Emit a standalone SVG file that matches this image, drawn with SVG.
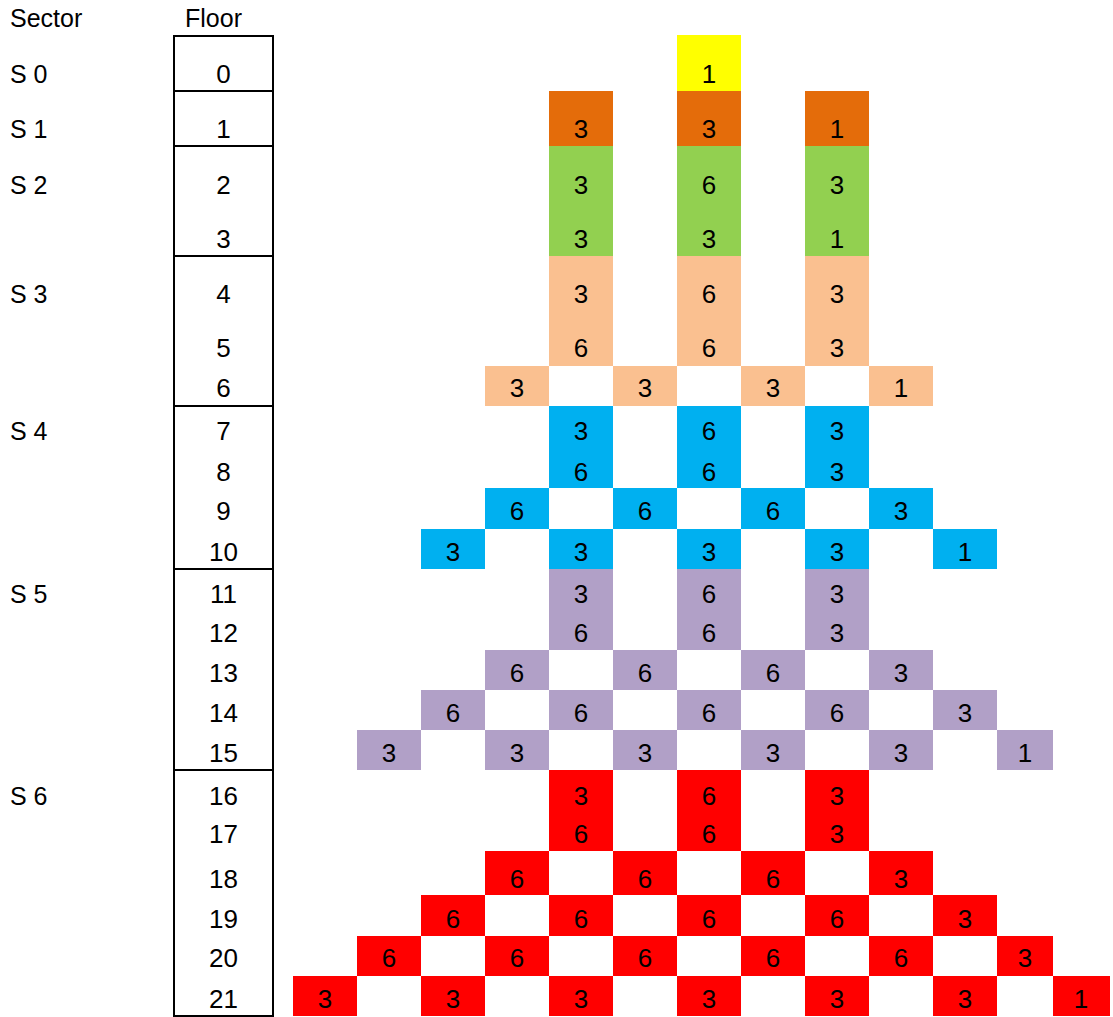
<svg xmlns="http://www.w3.org/2000/svg" width="1113" height="1017" viewBox="0 0 1113 1017">
<style>
text{font-family:"Liberation Sans",Arial,sans-serif;font-size:25px;fill:#000}
.c{text-anchor:middle;font-size:26px}
rect{shape-rendering:crispEdges;stroke:none}
.y{fill:#FFFF00}.o{fill:#E46C0A}.g{fill:#92D050}.p{fill:#FAC090}.b{fill:#00B0F0}.u{fill:#B1A0C7}.r{fill:#FF0000}
.ln{stroke:#000;stroke-width:2;fill:none;shape-rendering:crispEdges}
</style>
<rect width="1113" height="1017" fill="#fff"/>
<g id="headers">
<text x="10" y="27">Sector</text>
<text x="185" y="27">Floor</text>
</g>
<g id="sectors">
<text x="10" y="83">S 0</text>
<text x="10" y="138">S 1</text>
<text x="10" y="194">S 2</text>
<text x="10" y="303">S 3</text>
<text x="10" y="440">S 4</text>
<text x="10" y="603">S 5</text>
<text x="10" y="805">S 6</text>
</g>
<g id="floor-table">
<rect class="ln" x="174" y="36" width="99" height="980"/>
<path class="ln" d="M174 91H273M174 146H273M174 256H273M174 406H273M174 569H273M174 770H273"/>
<text class="c" x="223.5" y="83">0</text>
<text class="c" x="223.5" y="138">1</text>
<text class="c" x="223.5" y="194">2</text>
<text class="c" x="223.5" y="248">3</text>
<text class="c" x="223.5" y="303">4</text>
<text class="c" x="223.5" y="357">5</text>
<text class="c" x="223.5" y="397">6</text>
<text class="c" x="223.5" y="440">7</text>
<text class="c" x="223.5" y="481">8</text>
<text class="c" x="223.5" y="520">9</text>
<text class="c" x="223.5" y="561">10</text>
<text class="c" x="223.5" y="603">11</text>
<text class="c" x="223.5" y="642">12</text>
<text class="c" x="223.5" y="682">13</text>
<text class="c" x="223.5" y="722">14</text>
<text class="c" x="223.5" y="762">15</text>
<text class="c" x="223.5" y="805">16</text>
<text class="c" x="223.5" y="843">17</text>
<text class="c" x="223.5" y="888">18</text>
<text class="c" x="223.5" y="928">19</text>
<text class="c" x="223.5" y="967">20</text>
<text class="c" x="223.5" y="1008">21</text>
</g>
<g id="cells">
<g id="r0c6"><rect class="y" x="677" y="35" width="64" height="56"/><text class="c" x="709" y="83">1</text></g>
<g id="r1c4"><rect class="o" x="549" y="91" width="64" height="55"/><text class="c" x="581" y="138">3</text></g>
<g id="r1c6"><rect class="o" x="677" y="91" width="64" height="55"/><text class="c" x="709" y="138">3</text></g>
<g id="r1c8"><rect class="o" x="805" y="91" width="64" height="55"/><text class="c" x="837" y="138">1</text></g>
<g id="r2c4"><rect class="g" x="549" y="146" width="64" height="55"/><text class="c" x="581" y="194">3</text></g>
<g id="r2c6"><rect class="g" x="677" y="146" width="64" height="55"/><text class="c" x="709" y="194">6</text></g>
<g id="r2c8"><rect class="g" x="805" y="146" width="64" height="55"/><text class="c" x="837" y="194">3</text></g>
<g id="r3c4"><rect class="g" x="549" y="201" width="64" height="55"/><text class="c" x="581" y="248">3</text></g>
<g id="r3c6"><rect class="g" x="677" y="201" width="64" height="55"/><text class="c" x="709" y="248">3</text></g>
<g id="r3c8"><rect class="g" x="805" y="201" width="64" height="55"/><text class="c" x="837" y="248">1</text></g>
<g id="r4c4"><rect class="p" x="549" y="256" width="64" height="55"/><text class="c" x="581" y="303">3</text></g>
<g id="r4c6"><rect class="p" x="677" y="256" width="64" height="55"/><text class="c" x="709" y="303">6</text></g>
<g id="r4c8"><rect class="p" x="805" y="256" width="64" height="55"/><text class="c" x="837" y="303">3</text></g>
<g id="r5c4"><rect class="p" x="549" y="311" width="64" height="55"/><text class="c" x="581" y="357">6</text></g>
<g id="r5c6"><rect class="p" x="677" y="311" width="64" height="55"/><text class="c" x="709" y="357">6</text></g>
<g id="r5c8"><rect class="p" x="805" y="311" width="64" height="55"/><text class="c" x="837" y="357">3</text></g>
<g id="r6c3"><rect class="p" x="485" y="366" width="64" height="40"/><text class="c" x="517" y="397">3</text></g>
<g id="r6c5"><rect class="p" x="613" y="366" width="64" height="40"/><text class="c" x="645" y="397">3</text></g>
<g id="r6c7"><rect class="p" x="741" y="366" width="64" height="40"/><text class="c" x="773" y="397">3</text></g>
<g id="r6c9"><rect class="p" x="869" y="366" width="64" height="40"/><text class="c" x="901" y="397">1</text></g>
<g id="r7c4"><rect class="b" x="549" y="406" width="64" height="41"/><text class="c" x="581" y="440">3</text></g>
<g id="r7c6"><rect class="b" x="677" y="406" width="64" height="41"/><text class="c" x="709" y="440">6</text></g>
<g id="r7c8"><rect class="b" x="805" y="406" width="64" height="41"/><text class="c" x="837" y="440">3</text></g>
<g id="r8c4"><rect class="b" x="549" y="447" width="64" height="41"/><text class="c" x="581" y="481">6</text></g>
<g id="r8c6"><rect class="b" x="677" y="447" width="64" height="41"/><text class="c" x="709" y="481">6</text></g>
<g id="r8c8"><rect class="b" x="805" y="447" width="64" height="41"/><text class="c" x="837" y="481">3</text></g>
<g id="r9c3"><rect class="b" x="485" y="488" width="64" height="41"/><text class="c" x="517" y="520">6</text></g>
<g id="r9c5"><rect class="b" x="613" y="488" width="64" height="41"/><text class="c" x="645" y="520">6</text></g>
<g id="r9c7"><rect class="b" x="741" y="488" width="64" height="41"/><text class="c" x="773" y="520">6</text></g>
<g id="r9c9"><rect class="b" x="869" y="488" width="64" height="41"/><text class="c" x="901" y="520">3</text></g>
<g id="r10c2"><rect class="b" x="421" y="529" width="64" height="40"/><text class="c" x="453" y="561">3</text></g>
<g id="r10c4"><rect class="b" x="549" y="529" width="64" height="40"/><text class="c" x="581" y="561">3</text></g>
<g id="r10c6"><rect class="b" x="677" y="529" width="64" height="40"/><text class="c" x="709" y="561">3</text></g>
<g id="r10c8"><rect class="b" x="805" y="529" width="64" height="40"/><text class="c" x="837" y="561">3</text></g>
<g id="r10c10"><rect class="b" x="933" y="529" width="64" height="40"/><text class="c" x="965" y="561">1</text></g>
<g id="r11c4"><rect class="u" x="549" y="569" width="64" height="41"/><text class="c" x="581" y="603">3</text></g>
<g id="r11c6"><rect class="u" x="677" y="569" width="64" height="41"/><text class="c" x="709" y="603">6</text></g>
<g id="r11c8"><rect class="u" x="805" y="569" width="64" height="41"/><text class="c" x="837" y="603">3</text></g>
<g id="r12c4"><rect class="u" x="549" y="610" width="64" height="40"/><text class="c" x="581" y="642">6</text></g>
<g id="r12c6"><rect class="u" x="677" y="610" width="64" height="40"/><text class="c" x="709" y="642">6</text></g>
<g id="r12c8"><rect class="u" x="805" y="610" width="64" height="40"/><text class="c" x="837" y="642">3</text></g>
<g id="r13c3"><rect class="u" x="485" y="650" width="64" height="40"/><text class="c" x="517" y="682">6</text></g>
<g id="r13c5"><rect class="u" x="613" y="650" width="64" height="40"/><text class="c" x="645" y="682">6</text></g>
<g id="r13c7"><rect class="u" x="741" y="650" width="64" height="40"/><text class="c" x="773" y="682">6</text></g>
<g id="r13c9"><rect class="u" x="869" y="650" width="64" height="40"/><text class="c" x="901" y="682">3</text></g>
<g id="r14c2"><rect class="u" x="421" y="690" width="64" height="40"/><text class="c" x="453" y="722">6</text></g>
<g id="r14c4"><rect class="u" x="549" y="690" width="64" height="40"/><text class="c" x="581" y="722">6</text></g>
<g id="r14c6"><rect class="u" x="677" y="690" width="64" height="40"/><text class="c" x="709" y="722">6</text></g>
<g id="r14c8"><rect class="u" x="805" y="690" width="64" height="40"/><text class="c" x="837" y="722">6</text></g>
<g id="r14c10"><rect class="u" x="933" y="690" width="64" height="40"/><text class="c" x="965" y="722">3</text></g>
<g id="r15c1"><rect class="u" x="357" y="730" width="64" height="40"/><text class="c" x="389" y="762">3</text></g>
<g id="r15c3"><rect class="u" x="485" y="730" width="64" height="40"/><text class="c" x="517" y="762">3</text></g>
<g id="r15c5"><rect class="u" x="613" y="730" width="64" height="40"/><text class="c" x="645" y="762">3</text></g>
<g id="r15c7"><rect class="u" x="741" y="730" width="64" height="40"/><text class="c" x="773" y="762">3</text></g>
<g id="r15c9"><rect class="u" x="869" y="730" width="64" height="40"/><text class="c" x="901" y="762">3</text></g>
<g id="r15c11"><rect class="u" x="997" y="730" width="56" height="40"/><text class="c" x="1025" y="762">1</text></g>
<g id="r16c4"><rect class="r" x="549" y="770" width="64" height="41"/><text class="c" x="581" y="805">3</text></g>
<g id="r16c6"><rect class="r" x="677" y="770" width="64" height="41"/><text class="c" x="709" y="805">6</text></g>
<g id="r16c8"><rect class="r" x="805" y="770" width="64" height="41"/><text class="c" x="837" y="805">3</text></g>
<g id="r17c4"><rect class="r" x="549" y="811" width="64" height="40"/><text class="c" x="581" y="843">6</text></g>
<g id="r17c6"><rect class="r" x="677" y="811" width="64" height="40"/><text class="c" x="709" y="843">6</text></g>
<g id="r17c8"><rect class="r" x="805" y="811" width="64" height="40"/><text class="c" x="837" y="843">3</text></g>
<g id="r18c3"><rect class="r" x="485" y="851" width="64" height="44"/><text class="c" x="517" y="888">6</text></g>
<g id="r18c5"><rect class="r" x="613" y="851" width="64" height="44"/><text class="c" x="645" y="888">6</text></g>
<g id="r18c7"><rect class="r" x="741" y="851" width="64" height="44"/><text class="c" x="773" y="888">6</text></g>
<g id="r18c9"><rect class="r" x="869" y="851" width="64" height="44"/><text class="c" x="901" y="888">3</text></g>
<g id="r19c2"><rect class="r" x="421" y="895" width="64" height="41"/><text class="c" x="453" y="928">6</text></g>
<g id="r19c4"><rect class="r" x="549" y="895" width="64" height="41"/><text class="c" x="581" y="928">6</text></g>
<g id="r19c6"><rect class="r" x="677" y="895" width="64" height="41"/><text class="c" x="709" y="928">6</text></g>
<g id="r19c8"><rect class="r" x="805" y="895" width="64" height="41"/><text class="c" x="837" y="928">6</text></g>
<g id="r19c10"><rect class="r" x="933" y="895" width="64" height="41"/><text class="c" x="965" y="928">3</text></g>
<g id="r20c1"><rect class="r" x="357" y="936" width="64" height="40"/><text class="c" x="389" y="967">6</text></g>
<g id="r20c3"><rect class="r" x="485" y="936" width="64" height="40"/><text class="c" x="517" y="967">6</text></g>
<g id="r20c5"><rect class="r" x="613" y="936" width="64" height="40"/><text class="c" x="645" y="967">6</text></g>
<g id="r20c7"><rect class="r" x="741" y="936" width="64" height="40"/><text class="c" x="773" y="967">6</text></g>
<g id="r20c9"><rect class="r" x="869" y="936" width="64" height="40"/><text class="c" x="901" y="967">6</text></g>
<g id="r20c11"><rect class="r" x="997" y="936" width="56" height="40"/><text class="c" x="1025" y="967">3</text></g>
<g id="r21c0"><rect class="r" x="293" y="976" width="64" height="40"/><text class="c" x="325" y="1008">3</text></g>
<g id="r21c2"><rect class="r" x="421" y="976" width="64" height="40"/><text class="c" x="453" y="1008">3</text></g>
<g id="r21c4"><rect class="r" x="549" y="976" width="64" height="40"/><text class="c" x="581" y="1008">3</text></g>
<g id="r21c6"><rect class="r" x="677" y="976" width="64" height="40"/><text class="c" x="709" y="1008">3</text></g>
<g id="r21c8"><rect class="r" x="805" y="976" width="64" height="40"/><text class="c" x="837" y="1008">3</text></g>
<g id="r21c10"><rect class="r" x="933" y="976" width="64" height="40"/><text class="c" x="965" y="1008">3</text></g>
<g id="r21c12"><rect class="r" x="1053" y="976" width="57" height="40"/><text class="c" x="1081" y="1008">1</text></g>
</g>
</svg>
